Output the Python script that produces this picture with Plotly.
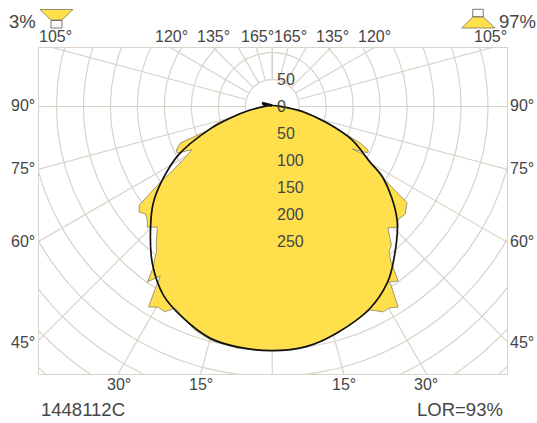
import numpy as np
import plotly.graph_objects as go

# Candela values by angle from nadir (left side then right side of the C-plane)
fill_left_deg = [0, 4, 8.2, 12, 14.8, 19, 22.7, 25.6, 27.6, 29.5, 31.6, 32.9, 33.3, 34.1, 35.3, 36.4, 37.4, 38.2, 40.2, 43.4,
                 45.8, 47.5, 49.5, 51.3, 53.2, 55.8, 56.4, 58.8, 61.2, 63.4, 65.1, 67.8, 69.0, 72.3, 77.6, 86]
fill_left_cd = [454, 454, 454, 451, 449, 440, 427, 416, 431, 429, 438, 392, 378, 386, 400, 371, 360, 347, 333, 310,
                323, 314, 309, 316, 308, 248, 229, 192, 170, 197, 196, 184, 127, 107, 47, 15]
fill_right_deg = [0, 4, 7.3, 12, 15.9, 20, 25.6, 28.3, 30.0, 32.0, 33.5, 33.5, 35.7, 36.7, 37.2, 38.6, 40.5, 43.4, 46.0, 47.7,
                  50.8, 54.2, 56.8, 62.0, 61.5, 63.7, 65.1, 66.9, 69.3, 72.6, 80, 86]
fill_right_cd = [454, 453, 451, 446, 438, 430, 420, 434, 433, 440, 399, 392, 400, 375, 364, 347, 340, 312, 324, 315,
                 318, 308, 246, 195, 169, 198, 196, 177, 139, 109, 58, 15]
curve_left_deg = [0, 8, 15, 22.7, 29.9, 37.3, 45, 50.7, 55.9, 62.2, 69.0, 73.4, 78.4, 85]
curve_left_cd = [454, 452, 446, 427, 405, 367, 319, 285, 246, 197, 127, 81, 42, 12]
curve_right_deg = [8, 15.9, 25.8, 32.9, 37.5, 47.5, 56.8, 60, 66.7, 72.3, 78.2, 84]
curve_right_cd = [451, 438, 417, 392, 368, 314, 246, 209, 161, 107, 59, 15]
tail_deg = [85, 104, 90]
tail_cd = [12, 19, 0]

grid_levels = [50 * i for i in range(1, 15)]
spoke_angles = [15 * i for i in range(-12, 13)]
angle_labels = ["105°", "120°", "135°", "165°", "165°", "135°", "120°", "105°"]
side_labels = ["90°", "75°", "60°", "45°"]
bottom_labels = ["30°", "15°", "15°", "30°"]
radial_labels = ["50", "0", "50", "100", "150", "200", "250"]
radial_values = [50, 0, -50, -100, -150, -200, -250]
top_pct, bottom_pct = "3%", "97%"
code_text, lor_text = "1448112C", "LOR=93%"

W, H = 537, 423
L, R, T, B = 38.5, 507, 48, 374
CX, CY = 272, 106.5
SCALE = 0.54  # px per cd

xr = [(L - CX) / SCALE, (R - CX) / SCALE]
yr = [(CY - B) / SCALE, (CY - T) / SCALE]
OFF = 1 / SCALE

GRID = "#d8d3c9"
INK = "#454545"
YEL = "#ffe04c"


def polar(deg, cd):
    a = np.radians(np.asarray(deg, float))
    c = np.asarray(cd, float)
    return c * np.sin(a), -c * np.cos(a)


fig = go.Figure()
theta = np.linspace(0, 2 * np.pi, 361)
for lv in grid_levels:
    fig.add_trace(go.Scatter(x=lv * np.cos(theta), y=lv * np.sin(theta), mode="lines",
                             line=dict(color=GRID, width=1.2), hoverinfo="skip", showlegend=False))
for s in spoke_angles:
    x0, y0 = polar([s, s], [50, 900])
    fig.add_trace(go.Scatter(x=x0, y=y0, mode="lines", line=dict(color=GRID, width=1.2),
                             hoverinfo="skip", showlegend=False))

lx, ly = polar(fill_left_deg, fill_left_cd)
rx, ry = polar(fill_right_deg, fill_right_cd)
fx = np.concatenate([-lx, [0], rx[::-1]])
fy = np.concatenate([ly, [0], ry[::-1]]) + OFF
fig.add_trace(go.Scatter(x=fx, y=fy, mode="lines", fill="toself", fillcolor=YEL,
                         line=dict(color="#77735a", width=0.7), hoverinfo="skip", showlegend=False))
clx, cly = polar(curve_left_deg, curve_left_cd)
crx, cry = polar(curve_right_deg, curve_right_cd)
kx = np.concatenate([[0], -clx[::-1], crx, [0]])
ky = np.concatenate([[0], cly[::-1], cry, [0]]) + OFF
fig.add_trace(go.Scatter(x=kx, y=ky, mode="lines",
                         line=dict(color="#111111", width=1.7, shape="spline", smoothing=1.0),
                         hoverinfo="skip", showlegend=False))
tx, ty = polar(tail_deg, tail_cd)
fig.add_trace(go.Scatter(x=-tx, y=ty + OFF, mode="lines", line=dict(color="#111111", width=2.4),
                         hoverinfo="skip", showlegend=False))


def px(x):
    return (x - L) / (R - L)


def py(y):
    return 1 - (y - T) / (B - T)


def label(text, x, y, size=16, anchor="center", color=INK):
    fig.add_annotation(text=text, x=px(x), y=py(y), xref="paper", yref="paper", showarrow=False,
                       xanchor=anchor, yanchor="middle", font=dict(size=size, color=color,
                       family="Liberation Sans, Arial, sans-serif"), borderpad=0, borderwidth=0,
                       )


for t, x in zip(angle_labels, [55, 171, 213, 257, 290, 332, 374, 490]):
    label(t, x, 37)
for t, y in zip(side_labels, [105, 168, 241, 342]):
    label(t, 22, y)
    label(t, 522, y)
for t, x in zip(bottom_labels, [119, 201, 344, 426]):
    label(t, x, 384)
for t, v in zip(radial_labels, radial_values):
    fig.add_annotation(text=t, x=4 / SCALE, y=v, xref="x", yref="y", showarrow=False, xanchor="left",
                       yanchor="middle", font=dict(size=16, color=INK,
                       family="Liberation Sans, Arial, sans-serif"), borderpad=0)
label(top_pct, 8, 21, 18.5, "left")
label(bottom_pct, 499, 21, 18.5, "left")
label(code_text, 41, 409, 18.5, "left")
label(lor_text, 503, 409, 18.5, "right")


def path(points):
    return "M " + " L ".join(f"{px(a):.5f} {py(b):.5f}" for a, b in points) + " Z"


for pts, fc in [
    ([(39.5, 9.5), (72.5, 9.5), (61.5, 20), (50.5, 20)], YEL),
    ([(50.5, 20.5), (61.5, 20.5), (61.5, 28), (50.5, 28)], "#ffffff"),
    ([(472.7, 9.3), (483.3, 9.3), (483.3, 16.7), (472.7, 16.7)], "#ffffff"),
    ([(472.7, 17), (483.3, 17), (495, 28), (461.7, 28)], YEL),
]:
    fig.add_shape(type="path", path=path(pts), xref="paper", yref="paper", fillcolor=fc,
                  line=dict(color="#77735a" if fc == YEL else "#555555", width=0.8))

axis = dict(showgrid=False, zeroline=False, showticklabels=False, ticks="", showline=True,
            linecolor=GRID, linewidth=1.4, mirror=True)
fig.update_xaxes(range=xr, **axis)
fig.update_yaxes(range=yr, **axis)
fig.update_layout(width=W, height=H, autosize=False, paper_bgcolor="white", plot_bgcolor="white",
                  margin=dict(l=L, r=W - R, t=T, b=H - B, pad=0), showlegend=False)
fig.write_html("out.html", config={"displayModeBar": False},
               post_script="document.body.style.margin='0';document.documentElement.style.overflow='hidden';")
